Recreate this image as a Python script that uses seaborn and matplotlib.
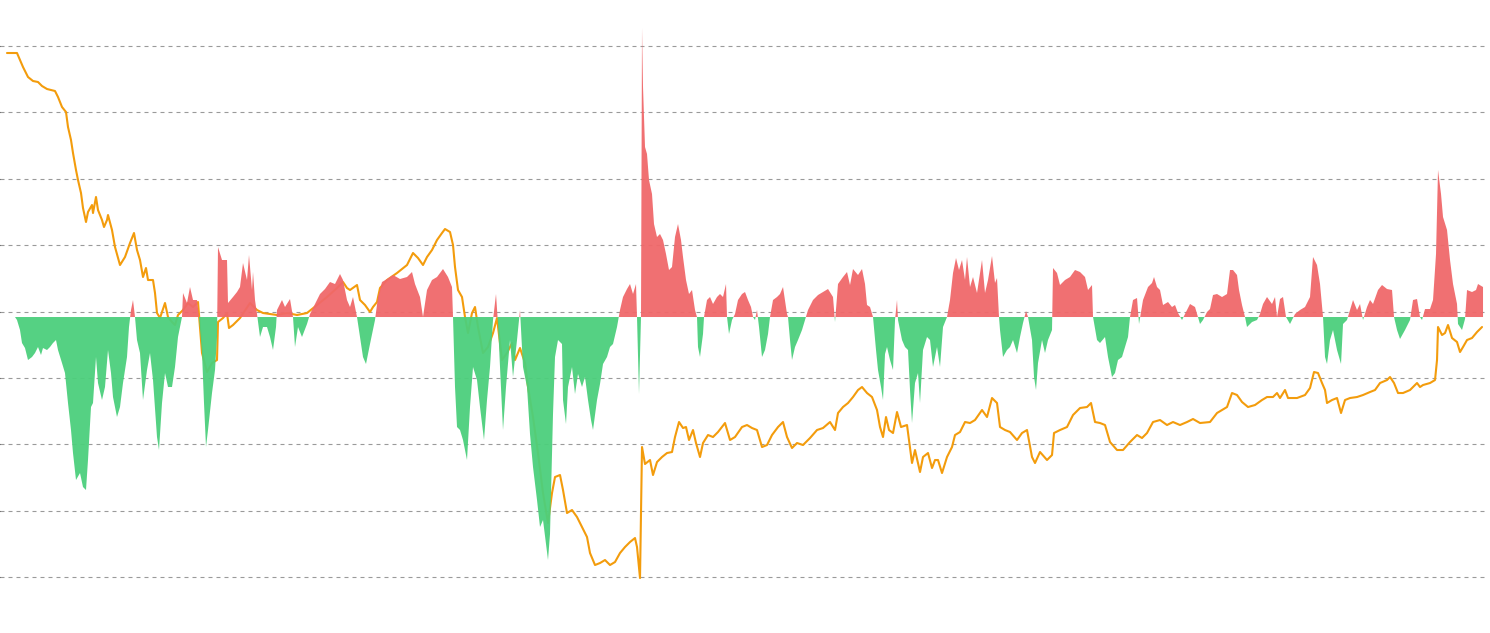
import numpy as np
import pandas as pd
import seaborn as sns
import matplotlib
matplotlib.use("Agg")
import matplotlib.pyplot as plt

# orange series (line); arbitrary units, no axis labels shown
line_t = [7, 17, 20, 23, 28, 33, 38, 42, 47, 55, 58, 62, 66, 68, 71, 73, 76, 78, 81, 83,
          86, 88, 92, 93, 96, 98, 102, 104, 107, 108, 112, 115, 120, 125, 130, 134, 137, 140, 143, 146,
          148, 153, 155, 157, 160, 165, 168, 172, 175, 178, 183, 188, 193, 198, 202, 207, 212, 217, 218, 223,
          227, 229, 233, 240, 250, 257, 263, 270, 277, 287, 297, 307, 317, 327, 337, 343, 347, 350, 357, 360,
          365, 370, 373, 377, 380, 387, 397, 407, 413, 418, 423, 427, 432, 437, 442, 445, 450, 453, 455, 458,
          462, 465, 468, 472, 475, 478, 483, 488, 493, 497, 502, 507, 512, 515, 520, 525, 528, 533, 538, 543,
          548, 552, 555, 560, 563, 567, 572, 577, 582, 587, 590, 595, 600, 605, 610, 615, 620, 625, 630, 635,
          637, 640, 642, 645, 650, 653, 657, 662, 667, 672, 675, 679, 683, 686, 689, 693, 696, 700, 703, 708,
          713, 718, 725, 730, 735, 742, 747, 752, 757, 762, 767, 772, 778, 783, 787, 792, 797, 803, 810, 817,
          823, 830, 835, 838, 843, 848, 853, 858, 862, 867, 872, 877, 880, 883, 886, 889, 893, 897, 901, 907,
          912, 915, 920, 923, 928, 932, 935, 938, 942, 947, 952, 955, 960, 965, 970, 975, 982, 987, 992, 997,
          1000, 1005, 1010, 1017, 1022, 1027, 1032, 1035, 1040, 1047, 1052, 1054, 1060, 1067, 1073, 1080, 1087, 1091, 1095, 1100,
          1105, 1110, 1117, 1123, 1130, 1137, 1142, 1147, 1153, 1160, 1167, 1173, 1180, 1187, 1193, 1200, 1210, 1217, 1227, 1232,
          1237, 1242, 1248, 1255, 1262, 1267, 1273, 1277, 1280, 1285, 1288, 1297, 1305, 1310, 1314, 1318, 1322, 1325, 1327, 1332,
          1337, 1341, 1345, 1350, 1357, 1363, 1370, 1375, 1380, 1387, 1390, 1394, 1398, 1403, 1410, 1417, 1420, 1423, 1430, 1435,
          1437, 1438, 1442, 1445, 1448, 1452, 1457, 1460, 1463, 1467, 1472, 1477, 1482]
line_v = [524, 524, 517, 510, 500, 496, 495, 491, 488, 486, 480, 470, 465, 450, 437, 424, 407, 397, 384, 369,
          355, 365, 372, 364, 380, 367, 357, 350, 357, 362, 347, 330, 312, 320, 334, 344, 327, 317, 300, 309,
          297, 297, 284, 264, 259, 274, 260, 255, 252, 262, 267, 274, 270, 275, 224, 205, 214, 217, 255, 259,
          264, 249, 252, 259, 274, 267, 264, 263, 262, 264, 262, 264, 272, 280, 289, 295, 289, 287, 292, 277,
          272, 265, 270, 275, 289, 297, 304, 312, 324, 319, 312, 320, 327, 337, 344, 348, 345, 332, 310, 287,
          280, 260, 244, 264, 270, 250, 224, 230, 244, 259, 217, 224, 234, 217, 229, 214, 190, 160, 124, 84,
          54, 84, 100, 102, 87, 64, 67, 60, 50, 40, 24, 12, 14, 17, 12, 15, 24, 30, 35, 39,
          30, -1, 130, 113, 117, 102, 115, 120, 124, 125, 140, 155, 149, 150, 137, 147, 134, 120, 134, 142,
          140, 145, 154, 137, 140, 150, 152, 149, 147, 130, 132, 142, 150, 155, 140, 129, 134, 132, 139, 147,
          149, 155, 147, 164, 170, 174, 180, 187, 190, 184, 180, 167, 150, 140, 160, 147, 144, 165, 150, 152,
          114, 127, 105, 120, 124, 109, 117, 117, 104, 120, 130, 142, 145, 155, 154, 157, 167, 160, 179, 174,
          150, 147, 145, 137, 144, 147, 120, 114, 125, 117, 122, 144, 147, 150, 162, 169, 170, 174, 155, 154,
          152, 135, 127, 127, 135, 142, 139, 144, 155, 157, 152, 155, 152, 155, 158, 154, 155, 164, 170, 184,
          182, 175, 170, 172, 177, 180, 180, 184, 179, 187, 179, 179, 182, 189, 205, 204, 194, 187, 174, 177,
          179, 164, 177, 179, 180, 182, 185, 187, 194, 197, 200, 194, 184, 184, 187, 194, 190, 192, 194, 197,
          217, 250, 242, 244, 252, 239, 235, 225, 230, 237, 239, 245, 250]

# red / green oscillator (area around zero)
area_t = [7, 15, 17, 20, 22, 25, 28, 32, 35, 38, 41, 43, 47, 50, 53, 56, 58, 62, 65, 68,
          71, 73, 76, 80, 83, 86, 88, 91, 93, 96, 98, 102, 105, 108, 111, 113, 117, 120, 123, 127,
          129, 131, 133, 135, 137, 140, 143, 147, 150, 153, 157, 159, 162, 165, 168, 172, 175, 178, 182, 183,
          187, 190, 193, 197, 199, 202, 204, 206, 208, 212, 215, 217, 218, 222, 227, 228, 233, 237, 240, 243,
          247, 249, 252, 253, 255, 257, 260, 263, 267, 270, 273, 276, 277, 282, 285, 290, 293, 295, 298, 302,
          307, 310, 315, 320, 325, 330, 335, 340, 343, 347, 350, 353, 357, 360, 363, 366, 370, 375, 378, 382,
          387, 393, 400, 407, 412, 415, 420, 423, 427, 432, 437, 443, 448, 452, 453, 455, 457, 460, 463, 467,
          470, 473, 477, 480, 484, 487, 490, 493, 496, 498, 500, 503, 506, 510, 513, 517, 520, 523, 527, 530,
          533, 537, 540, 543, 546, 548, 550, 553, 555, 558, 562, 563, 566, 568, 572, 575, 578, 582, 585, 588,
          591, 593, 597, 600, 603, 607, 610, 613, 617, 620, 623, 627, 630, 633, 636, 637, 639, 641, 642, 643,
          645, 647, 649, 652, 654, 657, 660, 663, 666, 669, 672, 675, 678, 681, 683, 686, 689, 692, 695, 697,
          698, 700, 703, 704, 707, 710, 713, 717, 720, 723, 726, 727, 729, 732, 735, 738, 742, 745, 748, 751,
          753, 755, 757, 759, 762, 765, 768, 770, 773, 777, 780, 783, 787, 788, 790, 792, 795, 798, 802, 805,
          808, 813, 818, 823, 828, 833, 835, 838, 843, 847, 850, 853, 858, 862, 865, 867, 870, 873, 876, 878,
          881, 883, 885, 887, 890, 893, 895, 897, 898, 902, 905, 908, 910, 912, 915, 918, 920, 923, 927, 930,
          933, 937, 940, 943, 947, 950, 953, 956, 959, 962, 965, 967, 970, 973, 977, 982, 985, 988, 992, 995,
          997, 999, 1000, 1003, 1007, 1010, 1013, 1017, 1020, 1023, 1026, 1028, 1032, 1034, 1036, 1038, 1042, 1045, 1048, 1052,
          1053, 1057, 1060, 1065, 1070, 1075, 1080, 1085, 1088, 1092, 1093, 1097, 1100, 1105, 1108, 1112, 1115, 1118, 1122, 1125,
          1128, 1130, 1133, 1137, 1139, 1143, 1148, 1152, 1154, 1157, 1160, 1163, 1168, 1172, 1175, 1178, 1182, 1187, 1190, 1195,
          1200, 1203, 1207, 1210, 1213, 1217, 1222, 1227, 1230, 1233, 1237, 1239, 1242, 1245, 1247, 1252, 1257, 1260, 1263, 1267,
          1272, 1275, 1277, 1280, 1283, 1286, 1290, 1295, 1300, 1305, 1310, 1313, 1317, 1320, 1323, 1325, 1327, 1330, 1333, 1337,
          1341, 1343, 1347, 1350, 1353, 1357, 1360, 1363, 1367, 1370, 1373, 1378, 1382, 1387, 1392, 1394, 1397, 1400, 1405, 1410,
          1413, 1417, 1420, 1422, 1425, 1430, 1433, 1436, 1438, 1441, 1443, 1447, 1450, 1453, 1457, 1458, 1462, 1465, 1467, 1472,
          1476, 1478, 1483]
area_v = [0, 0, -3, -13, -26, -31, -43, -40, -36, -30, -38, -31, -33, -30, -26, -23, -33, -46, -56, -86,
          -113, -136, -163, -156, -170, -173, -143, -90, -86, -40, -66, -83, -70, -33, -56, -80, -100, -90, -66, -40,
          -10, 7, 17, 0, -23, -36, -83, -53, -36, -63, -120, -133, -86, -56, -70, -70, -50, -20, 0, 24,
          14, 30, 17, 17, 0, -36, -86, -130, -113, -76, -53, -20, 70, 57, 57, 14, 20, 25, 30, 54,
          37, 62, 27, 45, 17, 3, -20, -10, -10, -20, -33, -10, 7, 17, 10, 18, 0, -30, -10, -20,
          -7, 3, 13, 23, 28, 35, 33, 43, 37, 17, 10, 20, 0, -20, -40, -47, -27, -3, 20, 35,
          38, 42, 38, 40, 45, 33, 20, 0, 27, 37, 40, 48, 40, 30, 0, -70, -110, -113, -123, -143,
          -90, -50, -63, -90, -123, -83, -50, -3, 23, -7, -50, -113, -70, -23, -60, -23, 7, -50, -70, -117,
          -150, -183, -210, -203, -227, -243, -217, -97, -40, -23, -27, -83, -107, -70, -50, -77, -57, -70, -60, -83,
          -103, -113, -83, -67, -47, -40, -30, -27, -10, 7, 20, 28, 33, 23, 33, 0, -77, 0, 289, 230,
          170, 163, 137, 123, 93, 80, 83, 77, 63, 47, 50, 80, 93, 77, 60, 37, 23, 27, 7, 0,
          -30, -40, -17, 0, 17, 20, 13, 20, 23, 20, 33, 0, -17, -3, 3, 17, 23, 25, 17, 10,
          0, -3, 7, -10, -40, -33, -17, 0, 17, 20, 23, 30, 3, 0, -23, -43, -30, -23, -13, -3,
          7, 17, 22, 25, 28, 20, -5, 33, 40, 45, 32, 48, 42, 48, 33, 12, 10, 0, -33, -53,
          -70, -83, -37, -30, -43, -53, -3, 17, -3, -23, -30, -33, -73, -106, -66, -56, -86, -33, -20, -23,
          -50, -30, -50, -10, 0, 17, 44, 59, 47, 57, 37, 60, 30, 40, 24, 57, 24, 37, 61, 34,
          39, 0, -13, -40, -33, -30, -23, -36, -20, -6, 6, 0, -23, -60, -73, -46, -23, -36, -23, -13,
          49, 44, 32, 37, 40, 47, 45, 40, 27, 32, 0, -23, -26, -20, -40, -60, -56, -43, -40, -30,
          -20, 0, 17, 19, -7, 17, 30, 34, 40, 30, 27, 12, 15, 10, 12, 4, -3, 7, 13, 10,
          -7, -3, 5, 8, 22, 23, 20, 23, 47, 47, 42, 27, 12, 0, -10, -5, -3, 3, 13, 20,
          13, 20, 0, 18, 20, 0, -7, 3, 7, 10, 20, 60, 52, 33, 0, -40, -47, -23, -13, -33,
          -47, -7, -3, 7, 17, 7, 13, -3, 10, 17, 13, 27, 32, 28, 27, 0, -13, -22, -13, -3,
          17, 18, 0, -3, 8, 8, 17, 63, 147, 123, 100, 87, 57, 33, 13, -7, -13, -2, 27, 25,
          27, 33, 30]

grid_levels = [0, 1, 2, 3, 4, 5, 6, 7, 8]
grid_step = 66.375

line_df = pd.DataFrame({"t": line_t, "v": line_v})
t = np.array(area_t, dtype=float)
a = np.array(area_v, dtype=float)

sns.set_style("white")
fig = plt.figure(figsize=(14.9, 6.33), dpi=100)
ax = fig.add_axes([0.0, 0.0205, 0.998, 0.9637])

# line + grid on the first axes
sns.lineplot(data=line_df, x="t", y="v", ax=ax, color="#F39C0C", lw=1.5, zorder=2)
ax.set_xlim(0, 1487)
ax.set_ylim(-43, 567)
ax.set_yticks([g * grid_step for g in grid_levels])
ax.yaxis.grid(True, color="#9a9a9a", lw=0.8, linestyle=(0, (3.6, 3.6)))
ax.set_xticks([])
ax.tick_params(left=False, labelleft=False, bottom=False, labelbottom=False)
ax.set_xlabel("")
ax.set_ylabel("")
for s in ax.spines.values():
    s.set_visible(False)

# oscillator on a twin axis, drawn above the line
ax2 = ax.twinx()
ax2.fill_between(t, a, 0, where=a >= 0, interpolate=True, color="#F0686A", lw=0, alpha=0.95)
ax2.fill_between(t, a, 0, where=a <= 0, interpolate=True, color="#4CCF7C", lw=0, alpha=0.95)
ax2.set_ylim(-303, 307)
ax2.set_xlim(0, 1487)
ax2.set_yticks([])
for s in ax2.spines.values():
    s.set_visible(False)

fig.savefig("out.png", dpi=100)
